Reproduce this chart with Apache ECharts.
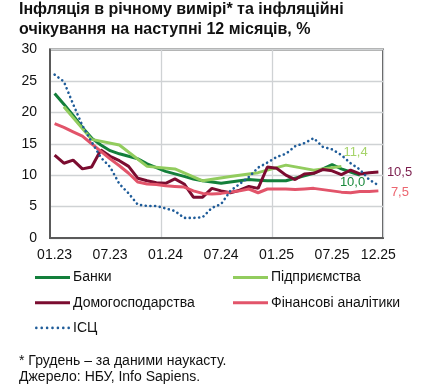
<!DOCTYPE html>
<html>
<head>
<meta charset="utf-8">
<script src="https://cdn.jsdelivr.net/npm/echarts@6/dist/echarts.min.js"></script>
<style>
html,body{margin:0;padding:0;background:#fff;}
#chart{width:435px;height:386px;}
</style>
</head>
<body>
<div id="chart"></div>
<script>
const categories = ['01.23','02.23','03.23','04.23','05.23','06.23','07.23','08.23','09.23','10.23','11.23','12.23',
  '01.24','02.24','03.24','04.24','05.24','06.24','07.24','08.24','09.24','10.24','11.24','12.24',
  '01.25','02.25','03.25','04.25','05.25','06.25','07.25','08.25','09.25','10.25','11.25','12.25'];
const shownLabels = ['01.23','07.23','01.24','07.24','01.25','07.25','12.25'];
const yTicks = [0, 5, 10, 15, 20, 25, 30];

const banks = [23.0,21.3,19.5,17.6,15.9,14.8,13.9,13.4,13.0,12.6,11.8,11.2,
  10.6,10.2,9.8,9.4,9.1,8.9,8.7,8.9,9.1,9.3,9.2,9.1,
  9.1,9.1,9.5,9.9,10.3,11.0,11.7,11.0,10.5,10.0];
const business = [null,20.9,null,null,15.7,null,null,14.8,null,null,11.4,null,
  null,11.0,null,null,9.1,null,null,9.8,null,null,10.4,null,
  null,11.6,null,null,10.8,null,null,11.4];
const households = [13.2,11.9,12.4,11.0,11.3,14.0,13.0,12.3,11.4,9.5,9.1,8.8,
  8.7,9.4,8.6,6.5,6.5,7.9,7.5,7.2,7.6,8.2,7.9,11.3,
  11.1,10.0,9.3,10.2,10.3,10.9,10.7,10.1,10.8,10.2,10.4,10.5];
const analysts = [18.2,17.6,16.9,16.2,15.0,13.8,12.6,11.5,10.3,8.9,8.6,8.5,
  8.3,8.2,8.1,7.5,7.1,7.0,7.1,7.3,7.5,7.8,7.2,7.8,
  7.8,7.8,7.7,7.8,7.9,7.7,7.5,7.3,7.2,7.4,7.4,7.5];
const cpi = [26.0,24.9,21.3,17.9,15.3,12.8,11.3,8.6,7.1,5.3,5.1,5.1,
  4.7,4.3,3.2,3.2,3.3,4.8,5.4,7.5,8.6,9.7,11.2,12.0,
  12.9,13.4,14.6,15.1,15.9,14.5,14.1,13.2,11.9,10.9,9.3,8.4];

const FONT = 'Liberation Sans, Arial, sans-serif';
const fmt = p => Number(p.value).toFixed(1).replace('.', ',');

// legend icons: solid bar and a row of dots
const solidIcon = 'path://M0,0L35,0L35,3L0,3Z';
let dotPath = 'path://';
for (let k = 0; k < 7; k++) {
  const cx = 1.5 + k * 5.33;
  dotPath += 'M' + (cx - 1.3) + ',1.5a1.3,1.3 0 1,0 2.6,0a1.3,1.3 0 1,0 -2.6,0';
}
const legendCommon = {
  orient: 'vertical', padding: 0, top: 270.5,
  itemWidth: 35, itemHeight: 3, itemGap: 11.2,
  textStyle: {fontSize: 14, color: '#111', fontFamily: FONT, padding: [0,0,0,-2]}
};

const chart = echarts.init(document.getElementById('chart'), null, {renderer: 'canvas'});
chart.setOption({
  animation: false,
  textStyle: {fontFamily: FONT},
  title: [
    {text: 'Інфляція в річному вимірі* та інфляційні\nочікування на наступні 12 місяців, %',
     left: 19, top: 0, padding: 0,
     textStyle: {fontSize: 16, fontWeight: 'bold', lineHeight: 20, color: '#111', fontFamily: FONT}},
    {text: '* Грудень – за даними наукасту.\nДжерело: НБУ, Info Sapiens.',
     left: 19, top: 352.5, padding: 0,
     textStyle: {fontSize: 14, fontWeight: 'normal', lineHeight: 16.5, color: '#111', fontFamily: FONT}}
  ],
  legend: [
    Object.assign({left: 35, data: [
      {name: 'Банки', icon: solidIcon},
      {name: 'Домогосподарства', icon: solidIcon},
      {name: 'ІСЦ', icon: dotPath}
    ]}, legendCommon),
    Object.assign({left: 233, data: [
      {name: 'Підприємства', icon: solidIcon},
      {name: 'Фінансові аналітики', icon: solidIcon}
    ]}, legendCommon)
  ],
  grid: {left: 50, right: 52, top: 49.5, bottom: 148, show: true,
         borderColor: '#5a5a5a', borderWidth: 2},
  xAxis: {
    type: 'category', data: categories, boundaryGap: true,
    axisLine: {show: true, lineStyle: {color: '#5a5a5a', width: 2}},
    axisTick: {show: false},
    axisLabel: {interval: (i, v) => shownLabels.indexOf(v) >= 0, fontSize: 14, color: '#111',
                margin: 10, fontFamily: FONT},
    splitLine: {show: true, interval: (i, v) => v === '01.24' || v === '01.25',
                lineStyle: {color: '#cfd2d4', width: 1.3}}
  },
  yAxis: {
    type: 'value', min: yTicks[0], max: yTicks[yTicks.length - 1], interval: 5,
    axisLine: {show: true, lineStyle: {color: '#5a5a5a', width: 2}},
    axisTick: {show: false},
    axisLabel: {fontSize: 14, color: '#111', margin: 13, fontFamily: FONT},
    splitLine: {show: true, lineStyle: {color: '#cfd2d4', width: 1.3}}
  },
  series: [
    {name: 'Банки', type: 'line', data: banks, symbol: 'none', connectNulls: true,
     color: '#137f3b', lineStyle: {width: 3, color: '#137f3b'},
     endLabel: {show: true, formatter: fmt, color: '#1a8a3c', fontSize: 13, fontFamily: FONT,
                distance: 0, offset: [-20, 7]}},
    {name: 'Підприємства', type: 'line', data: business, symbol: 'none', connectNulls: true,
     color: '#92cc5e', lineStyle: {width: 3, color: '#92cc5e'},
     endLabel: {show: true, formatter: fmt, color: '#a6d46a', fontSize: 13, fontFamily: FONT,
                distance: 0, offset: [2, -13.5]}},
    {name: 'Домогосподарства', type: 'line', data: households, symbol: 'none',
     color: '#7b0c30', lineStyle: {width: 3, color: '#7b0c30'},
     endLabel: {show: true, formatter: fmt, color: '#7a1c4c', fontSize: 13, fontFamily: FONT,
                distance: 0, offset: [8.5, 0]}},
    {name: 'Фінансові аналітики', type: 'line', data: analysts, symbol: 'none',
     color: '#e2546a', lineStyle: {width: 3, color: '#e2546a'},
     endLabel: {show: true, formatter: fmt, color: '#ec6670', fontSize: 13, fontFamily: FONT,
                distance: 0, offset: [12.5, 2]}},
    {name: 'ІСЦ', type: 'line', data: cpi, symbol: 'none',
     color: '#1f5c99', lineStyle: {width: 2.6, color: '#1f5c99', type: [0.1, 4.6], cap: 'round'}}
  ]
});
</script>
</body>
</html>
